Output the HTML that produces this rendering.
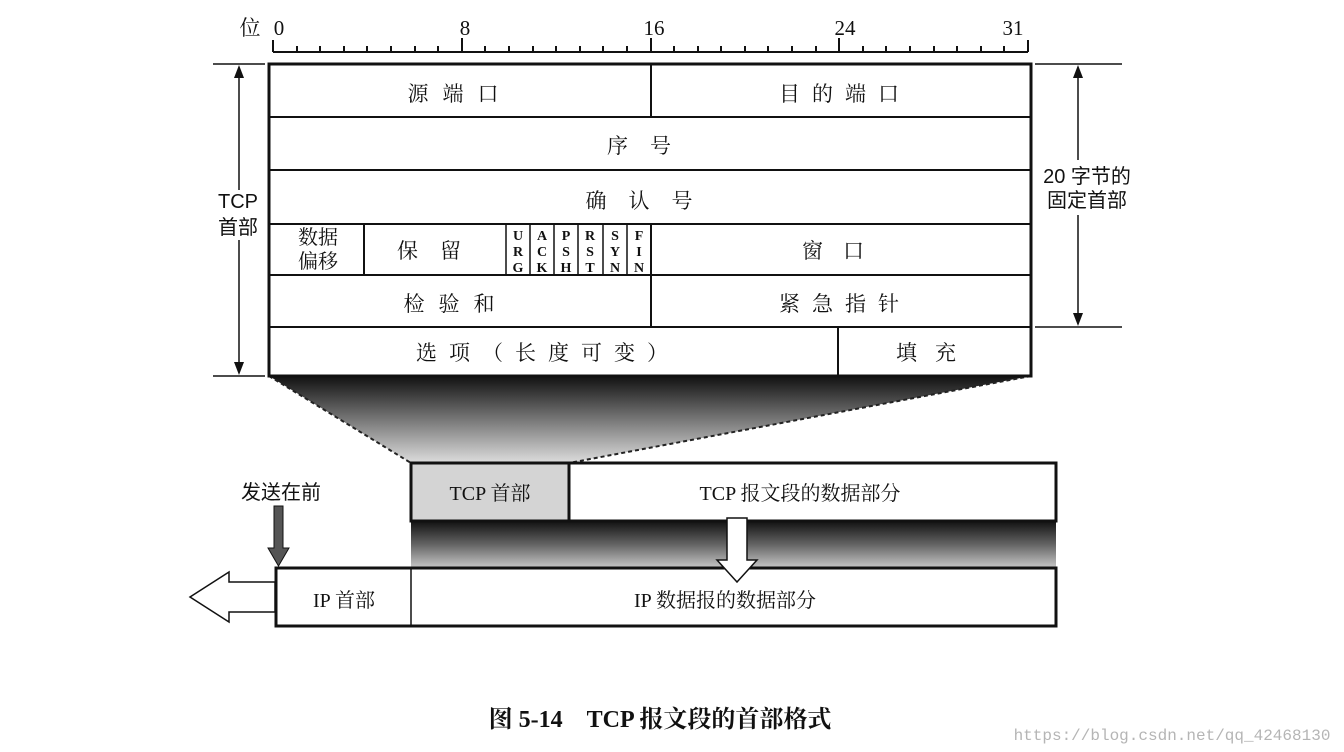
<!DOCTYPE html>
<html><head><meta charset="utf-8"><style>
html,body{margin:0;padding:0;background:#fff;}
svg{display:block;}
text{font-family:"Liberation Serif","Noto Serif CJK SC","Noto Sans CJK SC",serif;fill:#111;}
.c{text-anchor:middle;}
</style></head><body>
<svg width="1344" height="752" viewBox="0 0 1344 752" xmlns="http://www.w3.org/2000/svg">
<defs>
<linearGradient id="g1" x1="0" y1="0" x2="0" y2="1">
<stop offset="0" stop-color="#111"/><stop offset="0.5" stop-color="#777"/><stop offset="1" stop-color="#ddd"/>
</linearGradient>
<linearGradient id="g2" x1="0" y1="0" x2="0" y2="1">
<stop offset="0" stop-color="#111"/><stop offset="0.5" stop-color="#666"/><stop offset="1" stop-color="#ccc"/>
</linearGradient>
</defs>
<!-- ruler -->
<text x="250" y="35" font-size="21" class="c">位</text>
<text x="279" y="35" font-size="21" class="c">0</text>
<text x="465" y="35" font-size="21" class="c">8</text>
<text x="654" y="35" font-size="21" class="c">16</text>
<text x="845" y="35" font-size="21" class="c">24</text>
<text x="1013" y="35" font-size="21" class="c">31</text>
<g stroke="#111" stroke-width="2" fill="none">
<path d="M273 52 H1028"/>
<path d="M273 40V52 M297 46V52 M320 46V52 M344 46V52 M367 46V52 M391 46V52 M415 46V52 M438 46V52 M462 38V52 M485 46V52 M509 46V52 M533 46V52 M556 46V52 M580 46V52 M603 46V52 M627 46V52 M651 38V52 M674 46V52 M698 46V52 M721 46V52 M745 46V52 M768 46V52 M792 46V52 M816 46V52 M839 38V52 M863 46V52 M886 46V52 M910 46V52 M934 46V52 M957 46V52 M981 46V52 M1004 46V52 M1028 40V52"/>
</g>
<!-- gradient trapezoid -->
<polygon points="269,376 1031,376 569,463 411,463" fill="url(#g1)"/>
<g stroke="#222" stroke-width="2" stroke-dasharray="4,3">
<line x1="269" y1="376" x2="411" y2="463"/><line x1="1031" y1="376" x2="569" y2="463"/>
</g>
<!-- main box -->
<rect x="269" y="64" width="762" height="312" fill="#fff" stroke="#111" stroke-width="3"/>
<g stroke="#111" stroke-width="2">
<line x1="269" y1="117" x2="1031" y2="117"/>
<line x1="269" y1="170" x2="1031" y2="170"/>
<line x1="269" y1="224" x2="1031" y2="224"/>
<line x1="269" y1="275" x2="1031" y2="275"/>
<line x1="269" y1="327" x2="1031" y2="327"/>
<line x1="651" y1="64" x2="651" y2="117"/>
<line x1="651" y1="224" x2="651" y2="327"/>
<line x1="364" y1="224" x2="364" y2="275"/>
<line x1="838" y1="327" x2="838" y2="376"/>
<g stroke-width="1.5">
<line x1="506" y1="224" x2="506" y2="275"/><line x1="530" y1="224" x2="530" y2="275"/>
<line x1="554" y1="224" x2="554" y2="275"/><line x1="578" y1="224" x2="578" y2="275"/>
<line x1="603" y1="224" x2="603" y2="275"/><line x1="627" y1="224" x2="627" y2="275"/>
</g>
</g>
<g font-size="21">
<text x="460" y="101" class="c" letter-spacing="14">源端口</text>
<text x="845" y="101" class="c" letter-spacing="12">目的端口</text>
<text x="650" y="153" class="c" letter-spacing="22">序号</text>
<text x="650" y="208" class="c" letter-spacing="22">确认号</text>
<text x="318" y="244" class="c" font-size="20">数据</text>
<text x="318" y="268" class="c" font-size="20">偏移</text>
<text x="440" y="258" class="c" letter-spacing="22">保留</text>
<text x="843" y="258" class="c" letter-spacing="20">窗口</text>
<text x="456" y="311" class="c" letter-spacing="14">检验和</text>
<text x="845" y="311" class="c" letter-spacing="12">紧急指针</text>
<text x="548" y="360" class="c" letter-spacing="12">选项（长度可变）</text>
<text x="935" y="360" class="c" letter-spacing="18">填充</text>
</g>
<g font-size="14" font-weight="bold" class="c">
<text x="518" y="240">U</text><text x="518" y="256">R</text><text x="518" y="272">G</text>
<text x="542" y="240">A</text><text x="542" y="256">C</text><text x="542" y="272">K</text>
<text x="566" y="240">P</text><text x="566" y="256">S</text><text x="566" y="272">H</text>
<text x="590" y="240">R</text><text x="590" y="256">S</text><text x="590" y="272">T</text>
<text x="615" y="240">S</text><text x="615" y="256">Y</text><text x="615" y="272">N</text>
<text x="639" y="240">F</text><text x="639" y="256">I</text><text x="639" y="272">N</text>
</g>
<!-- dimensions -->
<g stroke="#111" stroke-width="1.5">
<line x1="213" y1="64" x2="265" y2="64"/><line x1="213" y1="376" x2="265" y2="376"/>
<line x1="239" y1="70" x2="239" y2="190"/><line x1="239" y1="240" x2="239" y2="370"/>
<line x1="1035" y1="64" x2="1122" y2="64"/><line x1="1035" y1="327" x2="1122" y2="327"/>
<line x1="1078" y1="70" x2="1078" y2="160"/><line x1="1078" y1="215" x2="1078" y2="321"/>
</g>
<polygon points="239,65 234,78 244,78" fill="#111"/><polygon points="239,375 234,362 244,362" fill="#111"/>
<polygon points="1078,65 1073,78 1083,78" fill="#111"/><polygon points="1078,326 1073,313 1083,313" fill="#111"/>
<text x="238" y="208" class="c" font-size="20" style="font-family:'Liberation Sans','Noto Sans CJK SC',sans-serif">TCP</text>
<text x="238" y="234" class="c" font-size="20" style="font-family:'Liberation Sans','Noto Sans CJK SC',sans-serif">首部</text>
<text x="1087" y="183" class="c" font-size="20" style="font-family:'Liberation Sans','Noto Sans CJK SC',sans-serif">20 字节的</text>
<text x="1087" y="207" class="c" font-size="20" style="font-family:'Liberation Sans','Noto Sans CJK SC',sans-serif">固定首部</text>
<!-- bottom gradient -->
<rect x="411" y="521" width="645" height="48" fill="url(#g2)"/>
<!-- TCP segment -->
<rect x="411" y="463" width="158" height="58" fill="#d4d4d4" stroke="#111" stroke-width="3"/>
<rect x="569" y="463" width="487" height="58" fill="#fff" stroke="#111" stroke-width="3"/>
<text x="490" y="500" class="c" font-size="20">TCP 首部</text>
<text x="800" y="500" class="c" font-size="20">TCP 报文段的数据部分</text>
<!-- IP box -->
<rect x="276" y="568" width="780" height="58" fill="#fff" stroke="#111" stroke-width="3"/>
<line x1="411" y1="568" x2="411" y2="626" stroke="#111" stroke-width="1.5"/>
<text x="344" y="607" class="c" font-size="20">IP 首部</text>
<text x="725" y="607" class="c" font-size="20">IP 数据报的数据部分</text>
<polygon points="727,518 747,518 747,560 757,560 737,582 717,560 727,560" fill="#fff" stroke="#111" stroke-width="1.5"/>
<polygon points="275,582 229,582 229,572 190,597 229,622 229,612 275,612" fill="#fff" stroke="#111" stroke-width="1.5"/>
<text x="281" y="499" class="c" font-size="20" style="font-family:'Liberation Sans','Noto Sans CJK SC',sans-serif">发送在前</text>
<polygon points="274,506 283,506 283,548 289,548 278.5,566 268,548 274,548" fill="#555" stroke="#111" stroke-width="1"/>
<!-- caption -->
<text x="660" y="727" class="c" font-size="24" font-weight="bold">图 5-14　TCP 报文段的首部格式</text>
<text x="1172" y="740" class="c" font-size="16" style="fill:#b5b5b5;font-family:'Liberation Mono',monospace">https://blog.csdn.net/qq_42468130</text>
</svg>
</body></html>
